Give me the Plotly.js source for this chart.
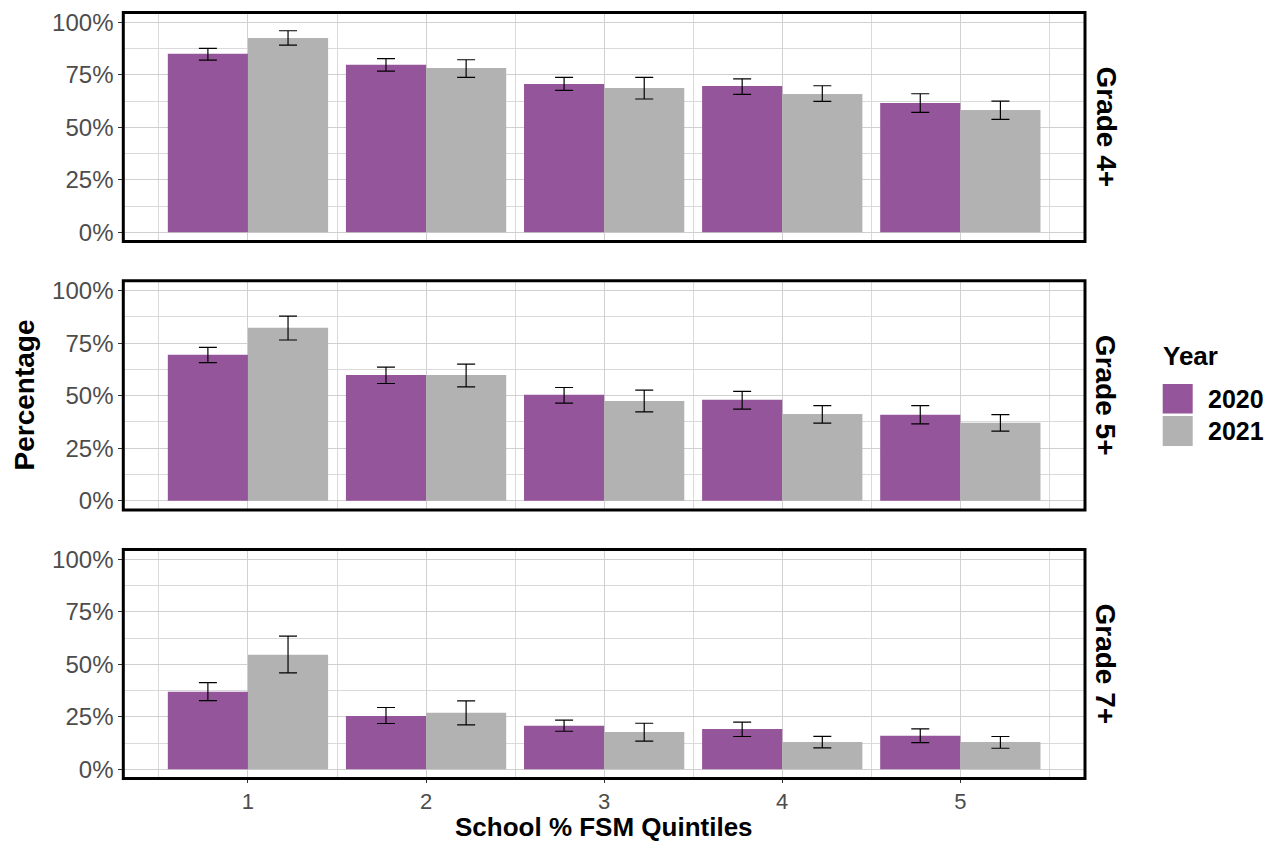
<!DOCTYPE html>
<html>
<head>
<meta charset="utf-8">
<script src="https://cdn.plot.ly/plotly-3.0.1.min.js"></script>
<style>html,body{margin:0;padding:0;background:#fff;}#chart{width:1278px;height:843px;}</style>
</head>
<body>
<div id="chart"></div>
<script>
// Data (percentages)
const quintiles = [1, 2, 3, 4, 5];
const years = ['2020', '2021'];
const panels = ['Grade 4+', 'Grade 5+', 'Grade 7+'];

const g4_2020 = [85.0, 79.8, 70.6, 69.7, 61.6];
const g4_2020_lo = [82.0, 76.8, 67.6, 65.7, 57.1];
const g4_2020_hi = [87.6, 82.7, 73.8, 73.1, 66.0];
const g4_2021 = [92.5, 78.2, 68.7, 65.9, 58.2];
const g4_2021_lo = [89.2, 73.8, 63.5, 62.4, 53.8];
const g4_2021_hi = [96.0, 82.2, 73.8, 69.8, 62.5];

const g5_2020 = [69.5, 59.9, 50.4, 48.0, 40.9];
const g5_2020_lo = [65.7, 55.8, 46.4, 43.6, 36.6];
const g5_2020_hi = [73.0, 63.6, 53.9, 52.0, 45.3];
const g5_2021 = [82.4, 59.9, 47.5, 41.3, 37.1];
const g5_2021_lo = [76.5, 54.2, 42.3, 36.9, 33.1];
const g5_2021_hi = [87.9, 65.0, 52.6, 45.3, 41.0];

const g7_2020 = [36.9, 25.4, 20.7, 19.2, 15.9];
const g7_2020_lo = [32.7, 21.8, 18.1, 15.6, 12.7];
const g7_2020_hi = [41.3, 29.4, 23.4, 22.4, 19.2];
const g7_2021 = [54.5, 26.9, 17.8, 13.0, 13.0];
const g7_2021_lo = [45.9, 21.1, 13.4, 10.2, 10.0];
const g7_2021_hi = [63.4, 32.6, 21.9, 15.7, 15.6];

const yTickVals = [0, 25, 50, 75, 100];
const yTickText = ['0%', '25%', '50%', '75%', '100%'];

const colors = {'2020': '#95559B', '2021': '#B2B2B2'};
const W = 1278, H = 843;

const series = [
  [[g4_2020, g4_2020_lo, g4_2020_hi], [g4_2021, g4_2021_lo, g4_2021_hi]],
  [[g5_2020, g5_2020_lo, g5_2020_hi], [g5_2021, g5_2021_lo, g5_2021_hi]],
  [[g7_2020, g7_2020_lo, g7_2020_hi], [g7_2021, g7_2021_lo, g7_2021_hi]]
];

// panel pixel boxes (top, bottom)
const panelPx = [[12.5, 241.5], [280.8, 509.9], [549.4, 778.5]];
const xLeft = 123.3, xRight = 1085;

const traces = [];
series.forEach((ps, pi) => {
  ps.forEach((s, yi) => {
    const [v, lo, hi] = s;
    traces.push({
      type: 'bar',
      x: quintiles,
      y: v,
      name: years[yi],
      legendgroup: years[yi],
      showlegend: false,
      marker: {color: colors[years[yi]], line: {width: 0}},
      xaxis: pi === 0 ? 'x' : 'x' + (pi + 1),
      yaxis: pi === 0 ? 'y' : 'y' + (pi + 1),
      error_y: {
        type: 'data', symmetric: false,
        array: v.map((d, i) => hi[i] - d),
        arrayminus: v.map((d, i) => d - lo[i]),
        color: '#000', thickness: 1.2, width: 9
      },
      hoverinfo: 'x+y+name'
    });
  });
});

const fontFam = 'Liberation Sans, Arial, sans-serif';
const gridMajor = '#d0d0d0', gridMinor = '#dadada';

const layout = {
  width: W, height: H,
  margin: {l: 0, r: 0, t: 0, b: 0},
  paper_bgcolor: '#fff', plot_bgcolor: '#fff',
  barmode: 'group', bargap: 0.1, bargroupgap: 0,
  showlegend: false,
  font: {family: fontFam},
  shapes: [], annotations: []
};

panelPx.forEach((p, i) => {
  const sfx = i === 0 ? '' : String(i + 1);
  const yDom = [1 - p[1] / H, 1 - p[0] / H];
  layout['xaxis' + sfx] = {
    domain: [xLeft / W, xRight / W],
    anchor: 'y' + sfx,
    range: [0.3, 5.7],
    tickmode: 'linear', tick0: 1, dtick: 1,
    showticklabels: i === 2,
    ticks: i === 2 ? 'outside' : '',
    ticklen: 3, tickcolor: '#333', tickwidth: 1,
    tickfont: {family: fontFam, size: 22, color: '#4d4d4d'},
    showgrid: true, gridcolor: gridMajor, gridwidth: 1,
    minor: {tick0: 0, dtick: 0.5, showgrid: true, gridcolor: gridMinor, gridwidth: 1, ticks: ''},
    zeroline: false, showline: false, fixedrange: true
  };
  layout['yaxis' + sfx] = {
    domain: yDom,
    anchor: 'x' + sfx,
    range: [-4.4, 104.7],
    tickmode: 'array', tickvals: yTickVals, ticktext: yTickText,
    ticks: 'outside', ticklen: 4, tickcolor: '#333', tickwidth: 1,
    tickfont: {family: fontFam, size: 24, color: '#4d4d4d'},
    showgrid: true, gridcolor: gridMajor, gridwidth: 1,
    minor: {tick0: 0, dtick: 12.5, showgrid: true, gridcolor: gridMinor, gridwidth: 1, ticks: ''},
    zeroline: false, showline: false, fixedrange: true
  };
  layout.shapes.push({
    type: 'rect', xref: 'x' + sfx + ' domain', yref: 'y' + sfx + ' domain',
    x0: 0, x1: 1, y0: 0, y1: 1, line: {color: '#000', width: 3}, layer: 'above'
  });
  layout.annotations.push({
    text: '<b>' + panels[i] + '</b>', xref: 'paper', yref: 'paper',
    x: 1105.5 / W, y: 1 - (p[0] + p[1]) / 2 / H, showarrow: false,
    textangle: 90, xanchor: 'center', yanchor: 'middle',
    font: {family: fontFam, size: 28, color: '#000'}
  });
});

// axis titles
layout.annotations.push({
  text: '<b>Percentage</b>', xref: 'paper', yref: 'paper',
  x: 24 / W, y: 1 - 395.5 / H, showarrow: false, textangle: -90,
  xanchor: 'center', yanchor: 'middle',
  font: {family: fontFam, size: 28, color: '#000'}
});
layout.annotations.push({
  text: '<b>School % FSM Quintiles</b>', xref: 'paper', yref: 'paper',
  x: 604 / W, y: 0, showarrow: false,
  xanchor: 'center', yanchor: 'bottom', borderpad: 0,
  font: {family: fontFam, size: 26, color: '#000'}
});

// legend (manual)
layout.annotations.push({
  text: '<b>Year</b>', xref: 'paper', yref: 'paper',
  x: 1161 / W, y: 1 - 356 / H, showarrow: false,
  xanchor: 'left', yanchor: 'middle',
  font: {family: fontFam, size: 26, color: '#000'}
});
const legendRows = [[384, 413.5], [416, 446]];
years.forEach((yr, i) => {
  const r = legendRows[i];
  layout.shapes.push({
    type: 'rect', xref: 'paper', yref: 'paper',
    x0: 1162.7 / W, x1: 1192.7 / W, y0: 1 - r[1] / H, y1: 1 - r[0] / H,
    fillcolor: colors[yr], line: {width: 0}
  });
  layout.annotations.push({
    text: '<b>' + yr + '</b>', xref: 'paper', yref: 'paper',
    x: 1206 / W, y: 1 - (r[0] + r[1]) / 2 / H, showarrow: false,
    xanchor: 'left', yanchor: 'middle',
    font: {family: fontFam, size: 25, color: '#000'}
  });
});

Plotly.newPlot('chart', traces, layout, {displayModeBar: false, staticPlot: true});
</script>
</body>
</html>
